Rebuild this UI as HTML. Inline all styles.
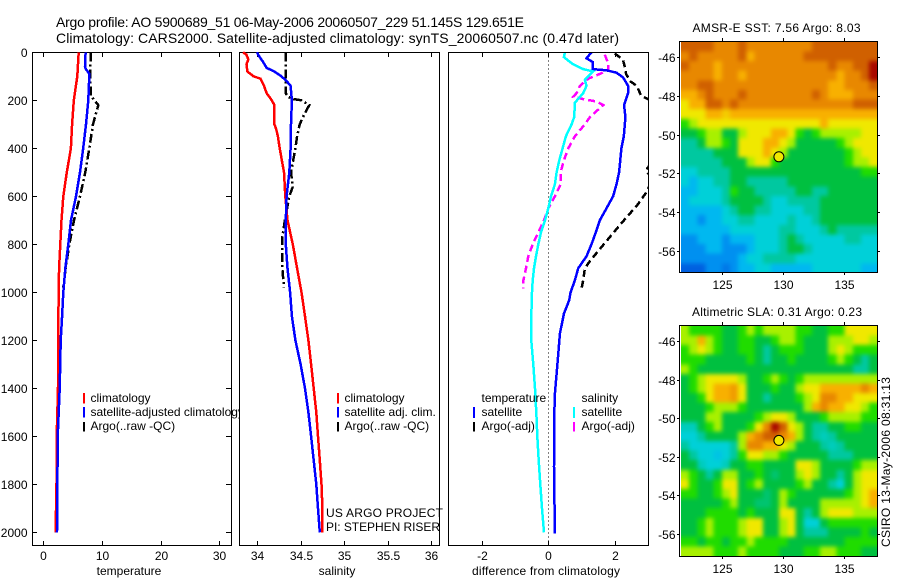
<!DOCTYPE html>
<html>
<head>
<meta charset="utf-8">
<title>Argo profile 5900689_51</title>
<style>
html,body{margin:0;padding:0;background:#fff;}
svg{display:block;}
text{font-family:"Liberation Sans",sans-serif;font-size:12px;fill:#000;}
.title{font-size:14px;}
.frame{stroke:#000;stroke-width:1;shape-rendering:crispEdges;}
.tick{stroke:#000;stroke-width:1;shape-rendering:crispEdges;}
.key{stroke-width:2;shape-rendering:crispEdges;}
.crisp{shape-rendering:crispEdges;}
</style>
</head>
<body>
<svg xmlns="http://www.w3.org/2000/svg" width="900" height="580" viewBox="0 0 900 580">
<defs>
<clipPath id="diff-clip"><rect x="449" y="53" width="199" height="492"/></clipPath>
<clipPath id="sst-clip"><rect x="681" y="42" width="196.5" height="230"/></clipPath>
<clipPath id="sla-clip"><rect x="681" y="326" width="196.5" height="230"/></clipPath>
<filter id="map-smooth" filterUnits="userSpaceOnUse" x="650" y="20" width="250" height="560" color-interpolation-filters="sRGB"><feGaussianBlur stdDeviation="2.2"/></filter>
</defs>
<rect x="0" y="0" width="900" height="580" fill="#fff"/>
<text class="title" x="56" y="27" textLength="468">Argo profile: AO 5900689_51 06-May-2006 20060507_229 51.145S 129.651E</text>
<text class="title" x="56" y="43" textLength="563">Climatology: CARS2000. Satellite-adjusted climatology: synTS_20060507.nc (0.47d later)</text>

<g>
<rect class="frame" x="32.5" y="52.5" width="199" height="493" fill="#fff"/>
<g id="temp-marks"></g>
<text x="129" y="575" text-anchor="middle">temperature</text>
<line class="key" x1="84" x2="84" y1="393" y2="403.5" stroke="#f00"/>
<text x="90.5" y="402">climatology</text>
<line class="key" x1="84" x2="84" y1="407" y2="417.5" stroke="#00f"/>
<text x="90.5" y="416">satellite-adjusted climatology</text>
<line class="key" x1="84" x2="84" y1="422" y2="431.5" stroke="#000"/>
<text x="90.5" y="430">Argo(..raw -QC)</text>
</g>

<g>
<rect class="frame" x="239.5" y="52.5" width="200" height="493" fill="#fff"/>
<g id="sal-marks"></g>
<text x="337" y="575" text-anchor="middle">salinity</text>
<line class="key" x1="338" x2="338" y1="393" y2="403.5" stroke="#f00"/>
<text x="344.5" y="402">climatology</text>
<line class="key" x1="338" x2="338" y1="407" y2="417.5" stroke="#00f"/>
<text x="344.5" y="416">satellite adj. clim.</text>
<line class="key" x1="338" x2="338" y1="422" y2="431.5" stroke="#000"/>
<text x="344.5" y="430">Argo(..raw -QC)</text>
<text x="326" y="517" textLength="117">US ARGO PROJECT</text>
<text x="326" y="531" textLength="114">PI: STEPHEN RISER</text>
</g>

<g>
<rect class="frame" x="448.5" y="52.5" width="200" height="493" fill="#fff"/>
<g id="diff-marks" clip-path="url(#diff-clip)"></g>
<g id="diff-ticks"></g>
<text x="546" y="575" text-anchor="middle" textLength="148">difference from climatology</text>
<text x="481.5" y="402">temperature</text>
<line class="key" x1="474" x2="474" y1="407" y2="418" stroke="#00f"/>
<text x="481.5" y="416">satellite</text>
<line class="key" x1="474" x2="474" y1="422" y2="431.5" stroke="#000"/>
<text x="481.5" y="430">Argo(-adj)</text>
<text x="581.5" y="402">salinity</text>
<line class="key" x1="574" x2="574" y1="407" y2="418" stroke="#0ff"/>
<text x="581.5" y="416">satellite</text>
<line class="key" x1="574" x2="574" y1="422" y2="431.5" stroke="#f0f"/>
<text x="581.5" y="430">Argo(-adj)</text>
</g>

<g>
<text x="776.5" y="32" text-anchor="middle" textLength="168">AMSR-E SST: 7.56 Argo: 8.03</text>
<g clip-path="url(#sst-clip)"><g id="sst-map-cells" filter="url(#map-smooth)"></g></g>
<rect class="frame" x="679.5" y="41.5" width="198" height="231" fill="none"/>
<g id="sst-map-axis"></g>
</g>

<g>
<text x="777" y="316" text-anchor="middle" textLength="170">Altimetric SLA: 0.31 Argo: 0.23</text>
<g clip-path="url(#sla-clip)"><g id="sla-map-cells" filter="url(#map-smooth)"></g></g>
<rect class="frame" x="679.5" y="325.5" width="198" height="231" fill="none"/>
<g id="sla-map-axis"></g>
</g>

<text transform="translate(890,547) rotate(-90)" textLength="170">CSIRO 13-May-2006 08:31:13</text>
</svg>

<script>
// ---------- profile data ----------
const depthTicks = [0,200,400,600,800,1000,1200,1400,1600,1800,2000];
const tempTicks = [0,10,20,30];
const salTicks = [34,34.5,35,35.5,36];
const salTickLabels = ['34','34.5','35','35.5','36'];
const diffTicks = [-2,0,2];
const lonTicks = [125,130,135];
const latTicks = [46,48,50,52,54,56];

const tempClimDepth = [0,100,200,300,400,500,600,700,800,900,1000,1200,1400,1600,1800,2000];
const tempClim = [6.03,5.8,5.2,4.9,4.7,4.0,3.4,3.1,2.9,2.7,2.6,2.55,2.5,2.28,2.25,2.1];
const tempSatDepth = [0,60,70,90,200,300,400,500,600,700,800,900,1000,1100,1200,1400,1600,1800,2000];
const tempSat = [7.2,7.1,7.25,7.85,7.67,7.27,6.8,6.25,5.57,4.72,4.26,3.75,3.4,3.2,2.96,2.8,2.45,2.4,2.33];
const tempArgoDepth = [0,100,180,190,220,300,400,500,600,700,800,900,980];
const tempArgo = [8.07,8,8.07,8.4,9.37,8.47,7.84,7.16,6.25,5.23,4.43,3.8,3.4];

const salClimDepth = [0,10,30,50,80,100,110,140,170,200,220,300,320,350,400,500,600,700,800,900,1000,1100,1200,1300,1400,1500,1600,1700,1800,1900,2000];
const salClim = [33.84,33.88,33.9,33.88,33.89,33.96,34.04,34.08,34.11,34.17,34.2,34.2,34.22,34.24,34.26,34.31,34.325,34.35,34.41,34.46,34.51,34.55,34.59,34.62,34.65,34.68,34.7,34.72,34.74,34.75,34.75];
const salSatDepth = [0,20,40,65,80,100,120,140,200,300,400,500,600,700,800,900,1000,1100,1200,1300,1400,1500,1600,1700,1800,1900,2000];
const salSat = [34,34.03,34.07,34.11,34.2,34.28,34.34,34.385,34.4,34.39,34.385,34.37,34.34,34.33,34.33,34.35,34.38,34.4,34.44,34.5,34.55,34.59,34.62,34.65,34.68,34.7,34.72];
const salArgoDepth = [0,100,170,185,195,200,220,260,300,350,400,500,560,600,700,770,850,900,980];
const salArgo = [34.33,34.33,34.33,34.35,34.42,34.51,34.6,34.54,34.49,34.46,34.44,34.39,34.41,34.37,34.32,34.29,34.29,34.29,34.31];

const diffTempSatDepth = [0,25,40,70,75,85,105,140,170,220,270,350,400,500,550,600,650,700,750,800,850,900,950,1000,1033,1089,1172,1256,1339,1422,1506,1728,2006];
const diffTempSat = [1.3,1.15,1.33,1.33,1.75,2.05,2.25,2.4,2.4,2.28,2.32,2.27,2.2,2.13,2.05,1.95,1.75,1.55,1.43,1.3,1.15,0.9,0.8,0.67,0.63,0.47,0.35,0.3,0.25,0.2,0.18,0.17,0.2];
const diffSalSatDepth = [0,20,35,50,70,80,100,115,140,170,210,270,300,350,400,450,500,550,600,650,700,750,800,850,900,950,1000,1100,1200,1300,1400,1500,1600,1700,1800,1900,2000];
const diffSalSat = [0.5,0.47,0.6,0.75,1.05,1.35,1.2,1.1,1.15,1.05,0.8,0.78,0.7,0.53,0.43,0.33,0.25,0.2,0.08,0,-0.1,-0.22,-0.3,-0.37,-0.43,-0.47,-0.49,-0.51,-0.51,-0.45,-0.4,-0.36,-0.33,-0.29,-0.24,-0.19,-0.13];
const diffSalArgoDepth = [10,45,75,90,110,140,170,185,195,205,220,270,300,350,400,450,500,550,600,650,700,750,800,850,900,950,985];
const diffSalArgo = [1.7,1.8,1.8,1.55,1.2,0.95,0.85,0.75,1.05,1.45,1.65,1.25,1.1,0.8,0.6,0.47,0.37,0.37,0.2,0,-0.13,-0.3,-0.47,-0.6,-0.67,-0.75,-0.75];
const diffTempArgoDepth = [5,30,60,90,120,140,180,195,210,300,470,490,510,540,585,640,680,720,770,820,870,900,950,985];
const diffTempArgo = [2,2.24,2.3,2.34,2.46,2.66,2.79,3,3.6,3.4,3.05,2.94,3.03,3.1,2.94,2.66,2.4,2.15,1.85,1.55,1.25,1.1,1.05,1];

// ---------- map data (colour-scale units, 0 = blue ... 12 = dark red) ----------
const argoLon = 129.651;
const argoLat = 51.145;
const colourStops = ['#0060e0','#0090f0','#00b8f0','#00d0d8','#00c8a0','#00c040','#20dc00','#a8f000','#f0e800','#f8b000','#e88800','#d06000','#a80800'];

const sstGrid = [
[11,11,11,11,10,10,10,11,10,10,10,10,10,10,10,10,11,11,11,11,11,11,11,11],
[10,11,10,10,10,10,10,11,9,10,10,10,10,10,10,11,11,11,11,11,11,11,11,11],
[11,10,10,10,9,10,10,10,10,10,10,10,10,10,10,10,10,10,11,10,10,11,11,12],
[10,10,10,10,9,10,10,9,10,10,10,10,10,10,10,10,10,10,10,9,10,10,11,12],
[10,10,11,11,10,10,10,10,10,10,10,10,10,10,10,10,10,10,9,9,10,10,10,11],
[9,9,10,11,10,10,10,11,10,10,10,10,10,10,10,10,11,10,9,9,9,10,10,10],
[8,9,9,11,11,10,11,10,10,10,10,10,10,10,10,10,10,10,10,10,10,11,11,11],
[8,8,8,9,9,8.5,9,9,9,9,9,9,9,9,9,9,9,9,9,9,9,9,9,9],
[6,7,8,8,8,8,8,8,8,8,8,8,8,8,8,8,8,9,8,8,8,8,8,8],
[5,5,6,7,7,5,5,7,8,8,8,9,9,8,6,5,6,7,7,7,7,7,8,8],
[4,4,5,7,7,6,5,8,8,8,9,9,8,7,5,5,5,5,5,6,7,8,8,8],
[4,4,4,4,5,5,5,8,8,8,9,8,7,5,5,5,5,5,5,5,6,7,8,8],
[4,4,4,4,4,5,5,5,7,8,8,6,5,5,5,5,5,5,5,5,6,7,7,8],
[3,3,4,4,4,4,5,5,5,5,5,5,5,5,5,5,5,5,5,5,5,5,6,6],
[3,2,3,3,4,4,5,5,4,4,4,4,4,5,5,5,5,5,5,5,5,5,5,5],
[2,2,3,3,3,4,6,5,5,4,4,4,4,4,5,5,4,4,5,5,5,5,5,5],
[2,3,3,3,3,4,5,5,5,5,4,3,3,4,4,4,4,5,5,5,5,5,5,5],
[2,2,2,2,2,3,4,5,5,4,4,3,3,3,3,4,4,5,5,5,5,5,5,5],
[2,2,1,2,2,3,3,4,4,3,3,3,3,4,3,3,4,5,5,5,5,5,5,5],
[2,2,2,2,2,2,3,3,3,3,3,3,4,4,3,3,3,4,5,4,4,4,4,4],
[1,1,2,2,2,1,2,2,2,3,3,3,4,5,4,3,3,3,3,3,4,4,3,3],
[1,1,1,2,2,1,1,1,2,3,3,3,4,5,5,4,3,3,3,3,3,3,3,3],
[1,1,1,1,1,1,1,2,3,3,4,4,4,4,3,3,3,3,3,3,3,3,3,3],
[0,0,0,1,1,0.5,1,2,2,3,3,2,2,2,2,2,3,3,3,3,3,3,2,2]
];

const slaGrid = [
[7,6,6,6,6,5,5,6,7,6,7,7,7,7,6,6,5,5,6,6,8,8,8,8],
[7,7,9,7,6,5,5,6,6,5,5,6,7,7,6,5,5,5,7,7,7,8,8,7],
[6,7,8,7,6,5,5,6,6,5,4,5,6,6,6,5,5,5,7,8,7,6,6,6],
[6,6,6,5,5,5,5,5,6,5,4,5,5,6,5,5,5,5,6,7,6,5,4,5],
[7,6,5,5,5,5,5,5,5,5,5,5,5,5,5,5,5,5,5,5,5,4,4,5],
[5,6,7,8,8,8,8,7,5,5,6,7,6,5,6,7,7,7,7,7,7,7,7,7],
[5,6,7,8,9,9,9.5,8,5,5,5,6,5,5,7,8,8,9,9,9,9,9,10,9],
[5,5,6,8,9,9,9.5,8,5,5,4,5,5,5,6,7,8,10,10,9,9,8,8,8],
[5,5,5,6,7,7,7,6,5,5,5,5,5,5,5,7,9,10,9,9,8,8,7,6],
[5,5,5,7,7,5,5,5,5,6,7,8,8,7,5,5,5,6,7,7,7,7,6,6],
[3.5,3.5,5,6,7,5,5,5,6,8,10,12,11,8,7,5,4,4,5,5,6,6,5,5],
[3,3,4,5,5,5,5,7,9,10,11,11,10,9,7,5,4,3.5,4,5,5,5,5,5],
[4,3,3,3,3,3,4,7,10,10,9,9,8,7,5,5,5,4,3.5,4,5,5,5,5],
[5,4,3,3,2.5,3,4,6,8,8,7,7,6,5,5,5,5,5,4,4,4,5,5,5],
[5,5,3.5,3,3,3.5,5,5,6,6,5,5,5,5,8,8,7,5,5,5,5,6,7,7],
[7,6,5,4,5,7,7,5,5,6,5,4.5,5,5,7,8,7,5,5,4,5,7,8,8],
[8,6,5,5,6,8,8,5,6,7,5,5,5,5,6,7,5,5,4,3,5,7,8,8],
[6,6,5,5,6,7,8,5,5,5,4.5,5,7,6,5,5,5,5,5,5,6,7,8,9],
[5,5,5,5,5,6,7,5,5,4.5,4.5,5,7,5,5,5,5,7,7,7,7,7,8,9],
[5,5,5,6,6,6,6,5,6,5,5,5,8,8,5,4,5,7,8,8,8,7,7,7],
[5,5,6,7,6,6,6,7,8,8,5,5,7,8,5,3,3,5,6,6,6,6,6,6],
[5,5,6,7,6,6,6,7,8,8,5,5,7,8,5,4,4,4,5,5,5,5,6,5],
[6,6,5,6,6,5,6,6,7,6,6,6,6,5,5,5,5,5,5,5,6,6,6,6],
[7,7,7,7,6,6,6,7,6,6,6,6,5,5,5,6,6,7,7,6,6,6,5,5]
];

// ---------- axis functions ----------
const SVGNS = 'http://www.w3.org/2000/svg';
function make(tag, parent) {
  const el = document.createElementNS(SVGNS, tag);
  parent.appendChild(el);
  return el;
}
const depthY = d => 52.3 + d * 0.24;
const tempX = v => 43.3 + v * 5.87;
const salX = v => 257 + (v - 34) * 87.2;
const diffX = v => 548.3 + v * 33.25;
const lonX = v => 722.3 + (v - 125) * 12.17;
const sstLatY = v => 57.3 + (v - 46) * 19.34;
const slaLatY = v => 341.3 + (v - 46) * 19.27;

function drawSeries(parent, depths, values, xFn, colour, dash, name) {
  const line = make('polyline', parent);
  line.setAttribute('points', depths.map((d, i) => xFn(values[i]).toFixed(1) + ',' + depthY(d).toFixed(1)).join(' '));
  line.setAttribute('fill', 'none');
  line.setAttribute('stroke', colour);
  line.setAttribute('stroke-width', '2.5');
  line.setAttribute('shape-rendering', 'crispEdges');
  if (dash) line.setAttribute('stroke-dasharray', dash);
  
  
}
function drawTick(parent, x1, y1, x2, y2, name) {
  const t = make('line', parent);
  t.setAttribute('class', 'tick');
  t.setAttribute('x1', x1);
  t.setAttribute('y1', y1);
  t.setAttribute('x2', x2);
  t.setAttribute('y2', y2);
  
  
}
function drawLabel(parent, x, y, anchor, str, name) {
  const t = make('text', parent);
  t.setAttribute('x', x);
  t.setAttribute('y', y);
  t.setAttribute('text-anchor', anchor);
  t.textContent = str;
  
  
}
function drawXAxis(parent, ticks, labels, xFn) {
  ticks.forEach((v, i) => {
    const x = Math.round(xFn(v)) + 0.5;
    drawTick(parent, x, 53, x, 57, 'x-tick-top');
    drawTick(parent, x, 541, x, 545, 'x-tick-bottom');
    drawLabel(parent, x, 560, 'middle', labels[i], 'x-tick-label');
  });
}
function mix(a, b, f) {
  const pa = [1, 3, 5].map(k => parseInt(a.substr(k, 2), 16));
  const pb = [1, 3, 5].map(k => parseInt(b.substr(k, 2), 16));
  return 'rgb(' + pa.map((c, i) => Math.round(c + (pb[i] - c) * f)).join(',') + ')';
}
function valueColour(v) {
  const lo = Math.max(0, Math.min(colourStops.length - 2, Math.floor(v)));
  return mix(colourStops[lo], colourStops[lo + 1], Math.min(1, v - lo));
}
function drawMap(cellsParent, axisParent, grid, latY, top, bottom, xLabelY, cellName) {
  const rows = grid.length;
  const cols = grid[0].length;
  const lon0 = 121.6, lon1 = 137.74, lat0 = 45.2, lat1 = 57.15;
  grid.forEach((row, r) => {
    row.forEach((v, c) => {
      // edge cells bleed past the clip so the smoothing does not fade at the border
      const x0 = lonX(lon0 + (lon1 - lon0) * c / cols) - (c === 0 ? 12 : 0);
      const x1 = lonX(lon0 + (lon1 - lon0) * (c + 1) / cols) + (c === cols - 1 ? 12 : 0);
      const y0 = latY(lat0 + (lat1 - lat0) * r / rows) - (r === 0 ? 12 : 0);
      const y1 = latY(lat0 + (lat1 - lat0) * (r + 1) / rows) + (r === rows - 1 ? 12 : 0);
      const cell = make('rect', cellsParent);
      cell.setAttribute('x', x0.toFixed(2));
      cell.setAttribute('y', y0.toFixed(2));
      cell.setAttribute('width', (x1 - x0 + 0.4).toFixed(2));
      cell.setAttribute('height', (y1 - y0 + 0.4).toFixed(2));
      cell.setAttribute('fill', valueColour(v));
      cell.setAttribute('class', 'crisp');
      
      
    });
  });
  lonTicks.forEach(v => {
    const x = Math.round(lonX(v)) + 0.5;
    drawTick(axisParent, x, top - 3, x, top, 'map-lon-tick-top');
    drawTick(axisParent, x, bottom, x, bottom + 3, 'map-lon-tick-bottom');
    drawLabel(axisParent, x, xLabelY, 'middle', String(v), 'map-lon-label');
  });
  latTicks.forEach(v => {
    const y = Math.round(latY(v)) + 0.5;
    drawTick(axisParent, 677, y, 680, y, 'map-lat-tick-left');
    drawTick(axisParent, 877, y, 880, y, 'map-lat-tick-right');
    drawLabel(axisParent, 675.5, y + 4.5, 'end', '-' + v, 'map-lat-label');
  });
  const dot = make('circle', axisParent);
  dot.setAttribute('cx', lonX(argoLon).toFixed(1));
  dot.setAttribute('cy', latY(argoLat).toFixed(1));
  dot.setAttribute('r', '5');
  dot.setAttribute('fill', '#f0e800');
  dot.setAttribute('stroke', '#000');
  dot.setAttribute('stroke-width', '1');
  
  
}

// ---------- draw ----------
const tempG = document.getElementById('temp-marks');
const salG = document.getElementById('sal-marks');
const diffG = document.getElementById('diff-marks');
const diffAxis = document.getElementById('diff-ticks');

depthTicks.forEach(d => {
  const y = Math.round(depthY(d)) + 0.5;
  drawTick(tempG, 33, y, 37, y, 'y-tick-left');
  drawTick(tempG, 226, y, 231, y, 'y-tick-right');
  drawLabel(tempG, 27.5, y + 4.5, 'end', String(d), 'y-tick-label');
});
drawXAxis(tempG, tempTicks, tempTicks.map(String), tempX);
drawSeries(tempG, tempArgoDepth, tempArgo, tempX, '#000', '9 3 2 3', 'temperature-argo-line');
drawSeries(tempG, tempClimDepth, tempClim, tempX, '#f00', null, 'temperature-climatology-line');
drawSeries(tempG, tempSatDepth, tempSat, tempX, '#00f', null, 'temperature-satellite-line');

drawXAxis(salG, salTicks, salTickLabels, salX);
drawSeries(salG, salArgoDepth, salArgo, salX, '#000', '9 3 2 3', 'salinity-argo-line');
drawSeries(salG, salClimDepth, salClim, salX, '#f00', null, 'salinity-climatology-line');
drawSeries(salG, salSatDepth, salSat, salX, '#00f', null, 'salinity-satellite-line');

drawXAxis(diffAxis, diffTicks, diffTicks.map(String), diffX);
const zeroLine = make('line', diffG);
zeroLine.setAttribute('x1', Math.round(diffX(0)) + 0.5);
zeroLine.setAttribute('x2', Math.round(diffX(0)) + 0.5);
zeroLine.setAttribute('y1', depthY(0));
zeroLine.setAttribute('y2', 545);
zeroLine.setAttribute('stroke', '#000');
zeroLine.setAttribute('stroke-dasharray', '1 3');
zeroLine.setAttribute('class', 'crisp');


drawSeries(diffG, diffTempArgoDepth, diffTempArgo, diffX, '#000', '7 4', 'difference-temperature-argo-line');
drawSeries(diffG, diffSalArgoDepth, diffSalArgo, diffX, '#f0f', '7 4', 'difference-salinity-argo-line');
drawSeries(diffG, diffTempSatDepth, diffTempSat, diffX, '#00f', null, 'difference-temperature-satellite-line');
drawSeries(diffG, diffSalSatDepth, diffSalSat, diffX, '#0ff', null, 'difference-salinity-satellite-line');

drawMap(document.getElementById('sst-map-cells'), document.getElementById('sst-map-axis'), sstGrid, sstLatY, 41, 272, 289, 'sst-cell');
drawMap(document.getElementById('sla-map-cells'), document.getElementById('sla-map-axis'), slaGrid, slaLatY, 325, 556, 573, 'sla-cell');
</script>
</body>
</html>
